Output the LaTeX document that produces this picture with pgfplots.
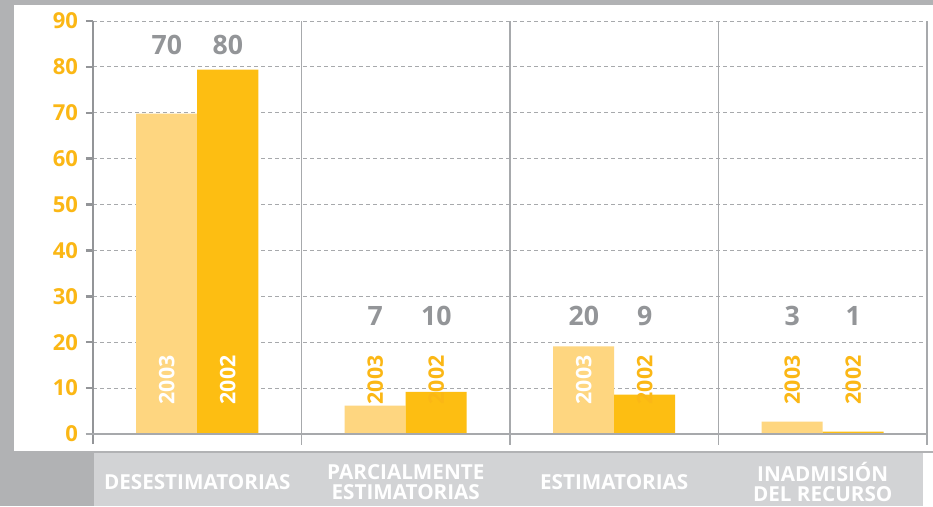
\documentclass[border=0pt]{standalone}
\usepackage{fontspec}
\setmainfont{Open Sans}
\usepackage{pgfplots}
\pgfplotsset{compat=1.18}

\definecolor{bgdark}{HTML}{B1B2B4}
\definecolor{band}{HTML}{D2D3D5}
\definecolor{barlight}{HTML}{FED680}
\definecolor{bardark}{HTML}{FDBE12}
\definecolor{ticko}{HTML}{FBB715}
\definecolor{valgray}{HTML}{939598}
\definecolor{gridgray}{HTML}{A7A9AC}

\begin{document}
\begin{tikzpicture}
% background (1px = 0.75pt, origin top left)
\fill[bgdark] (0,0) rectangle (699.75pt,-379.5pt);
\fill[white] (10.5pt,-3.75pt) rectangle (699.75pt,-338.25pt);
\fill[band] (70.5pt,-339.75pt) rectangle (692.25pt,-379.5pt);
\fill[white] (692.25pt,-339.75pt) rectangle (699.75pt,-379.5pt);

\begin{axis}[
    at={(69.75pt,-325.5pt)}, anchor=south west,
    scale only axis, width=625.5pt, height=309.75pt,
    xmin=-0.5, xmax=3.5, ymin=0, ymax=90,
    clip=false,
    axis line style={draw=none},
    ytick={0,10,...,90},
    ymajorgrids,
    grid style={gridgray, line width=0.75pt, dash pattern=on 3pt off 2.25pt},
    tick align=outside, ytick pos=left,
    major tick length=5.25pt,
    ytick style={valgray, line width=1.8pt},
    yticklabel style={ticko, font=\fontsize{16.5}{19}\selectfont\bfseries, xshift=-2.5pt},
    /pgf/number format/assume math mode=true,
    xtick={0,1,2,3},
    xtick style={draw=none},
    xticklabels={DESESTIMATORIAS, {PARCIALMENTE\\ESTIMATORIAS}, ESTIMATORIAS, {INADMISIÓN\\DEL RECURSO}},
    xticklabel style={white, anchor=center, align=center, yshift=-31pt,
        font=\fontsize{15.5}{15}\selectfont\bfseries},
]
% 2003
\addplot[ybar, bar width=45.75pt, bar shift=-22.875pt, fill=barlight, draw=none]
    coordinates {(0,69.8)(1,6.2)(2,19.1)(3,2.7)};
% 2002
\addplot[ybar, bar width=45.75pt, bar shift=22.875pt, fill=bardark, draw=none]
    coordinates {(0,79.4)(1,9.2)(2,8.6)(3,0.5)};

% axis and separator lines
\draw[valgray, line width=1.8pt] (axis cs:-0.5,-2.2) -- (axis cs:-0.5,90);
\draw[gridgray, line width=1.1pt] (axis cs:0.5,-2.3) -- (axis cs:0.5,90);
\draw[gridgray, line width=1.1pt] (axis cs:1.5,-2.3) -- (axis cs:1.5,90);
\draw[gridgray, line width=1.1pt] (axis cs:2.5,-2.3) -- (axis cs:2.5,90);
\draw[gridgray, line width=1.1pt] (axis cs:3.5,-2.3) -- (axis cs:3.5,90);
\draw[gridgray, line width=2.2pt] (axis cs:-0.534,0) -- (axis cs:3.5,0);

% value labels
\addplot[draw=none, mark=none, nodes near coords, point meta=explicit symbolic,
    every node near coord/.style={anchor=center, valgray, font=\fontsize{20}{24}\selectfont\bfseries}]
    coordinates {(-0.1463,84.8)[70] (0.1463,84.8)[80]
                 (0.8537,25.7)[7] (1.1463,25.7)[10]
                 (1.8537,25.7)[20] (2.1463,25.7)[9]
                 (2.8537,25.7)[3] (3.1463,25.7)[1]};
% year labels inside bars
\addplot[draw=none, mark=none, nodes near coords, point meta=explicit symbolic,
    every node near coord/.style={anchor=center, rotate=90, white, font=\fontsize{16}{18}\selectfont\bfseries}]
    coordinates {(-0.1463,11.8)[2003] (0.1463,11.8)[2002] (1.8537,11.8)[2003]};
% year labels above bars
\addplot[draw=none, mark=none, nodes near coords, point meta=explicit symbolic,
    every node near coord/.style={anchor=center, rotate=90, ticko, font=\fontsize{16}{18}\selectfont\bfseries}]
    coordinates {(0.8537,11.8)[2003] (1.1463,11.8)[2002] (2.1463,11.8)[2002]
                 (2.8537,11.8)[2003] (3.1463,11.8)[2002]};
\end{axis}
\end{tikzpicture}
\end{document}
